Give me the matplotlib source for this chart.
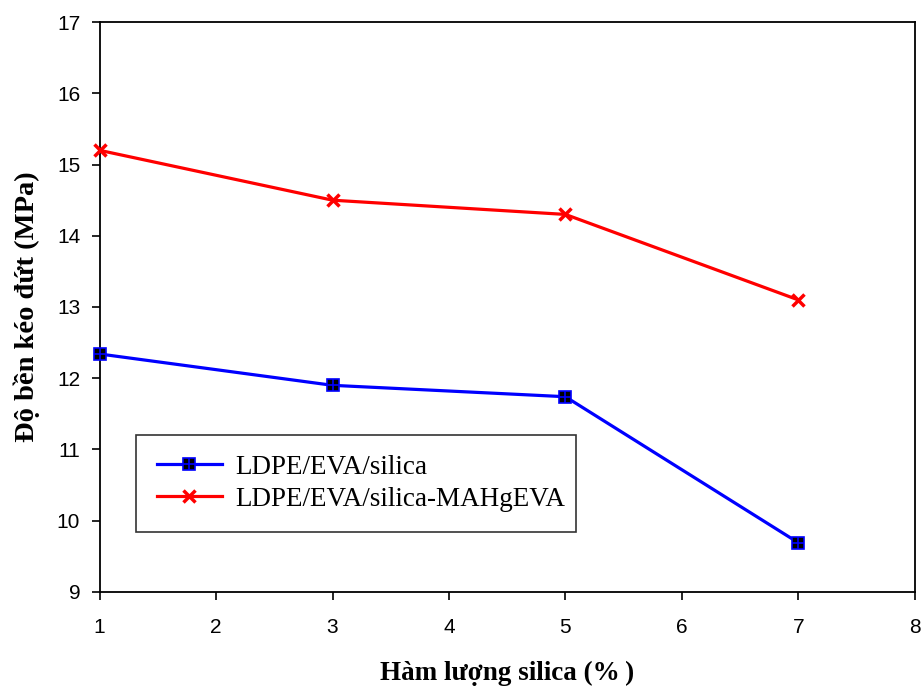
import matplotlib
matplotlib.use('Agg')
from matplotlib import pyplot as plt

# data
silica = [1, 3, 5, 7]
ldpe_eva = [12.34, 11.9, 11.74, 9.69]
ldpe_eva_mah = [15.2, 14.5, 14.3, 13.1]
labels = ['LDPE/EVA/silica', 'LDPE/EVA/silica-MAHgEVA']

fig = plt.figure(figsize=(9.23, 6.93), dpi=100)
ax = fig.add_axes([0.108, 0.146, 0.883, 0.822])

l1, = ax.plot(silica, ldpe_eva, color='blue', lw=2.3, marker='s', ms=9,
              mfc='black', mec='blue', mew=1.2, clip_on=False, zorder=3)
p1, = ax.plot(silica, ldpe_eva, ls='none', marker='+', ms=9, mec='blue',
              mew=1.2, clip_on=False, zorder=4)
l2, = ax.plot(silica, ldpe_eva_mah, color='red', lw=2.3, marker='x', ms=9,
              mec='red', mew=2.5, clip_on=False, zorder=3)

ax.set_xlim(1, 8)
ax.set_ylim(9, 17)
ax.set_xticks(range(1, 9))
ax.set_yticks(range(9, 18))
ax.tick_params(direction='out', length=6, width=1.2, labelsize=15)
ax.tick_params(axis='x', pad=13)
ax.tick_params(axis='y', pad=8)
for lab in ax.get_xticklabels() + ax.get_yticklabels():
    lab.set_family('Liberation Sans')
for s in ax.spines.values():
    s.set_linewidth(1.3)

ax.set_xlabel('Hàm lượng silica (%\u2009)', family='Liberation Serif', fontsize=19.5,
              fontweight='bold', labelpad=17)
ax.set_ylabel('Độ bền kéo đứt (MPa)', family='Liberation Serif', fontsize=20.5,
              fontweight='bold', labelpad=12)

leg = ax.legend([(l1, p1), l2], labels, loc='lower left',
                bbox_to_anchor=(0.045, 0.105, 0.54, 0.162), mode='expand',
                borderaxespad=0,
                prop={'family': 'Liberation Serif', 'size': 19.5},
                frameon=True, fancybox=False, edgecolor='black',
                borderpad=0.75, handlelength=2.4, handletextpad=0.5,
                labelspacing=0.25)
leg.get_frame().set_linewidth(1.2)

plt.savefig('out.png', dpi=100)
